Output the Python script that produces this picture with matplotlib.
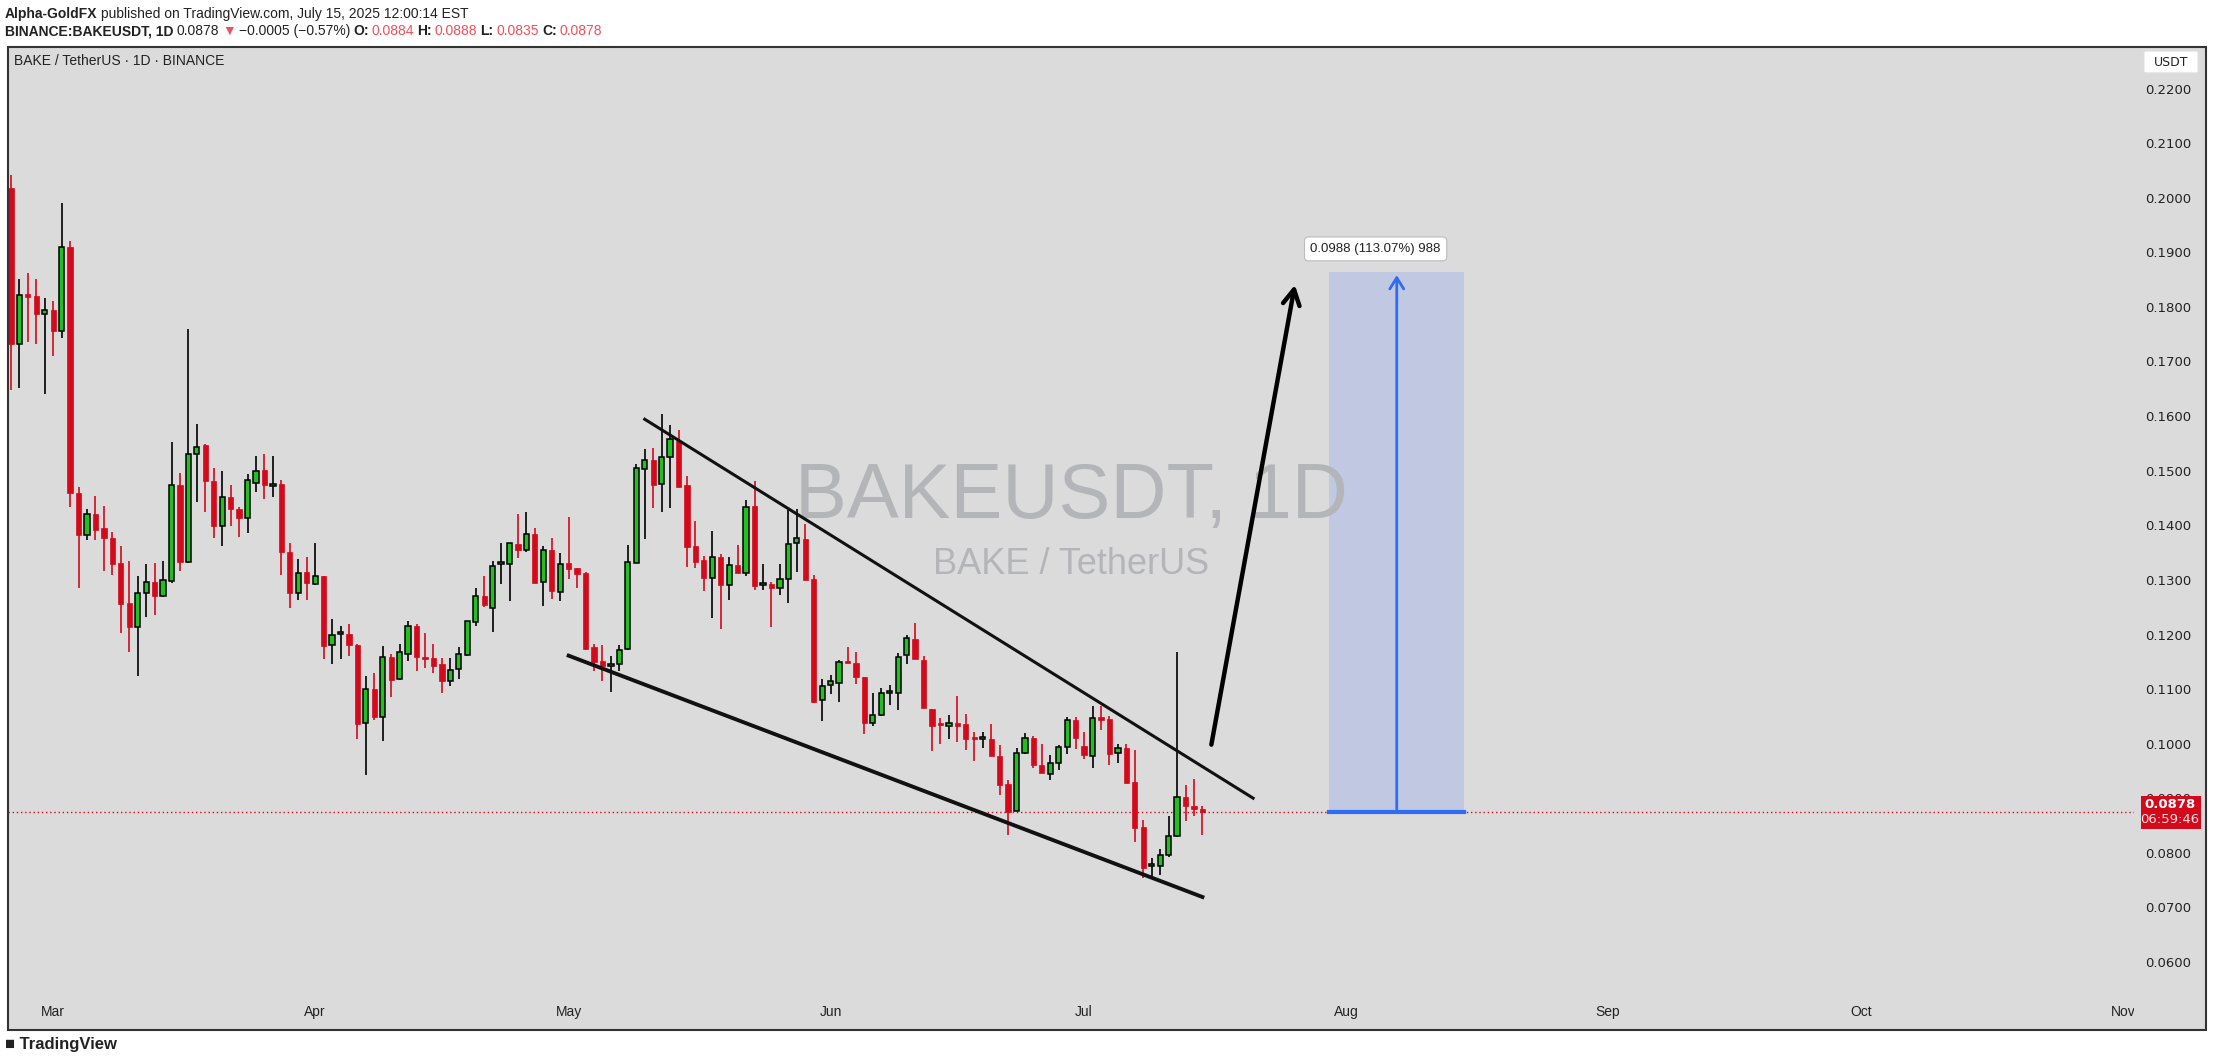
import numpy as np
import matplotlib
matplotlib.use("Agg")
import matplotlib.pyplot as plt
import matplotlib.dates as mdates
from matplotlib.patches import Rectangle, FancyBboxPatch

# daily candles, BINANCE:BAKEUSDT, starting Feb 24 2025
start = np.datetime64("2025-02-24")
opens = [.2020, .1735, .1826, .1823, .1789, .1797, .1759, .1912, .1461, .1385,
         .1423, .1397, .1380, .1334, .1260, .1217, .1279, .1298, .1274, .1300,
         .1477, .1336, .1534, .1549, .1484, .1401, .1454, .1432, .1416, .1481,
         .1504, .1475, .1478, .1354, .1279, .1318, .1295, .1309, .1183, .1203,
         .1203, .1183, .1040, .1103, .1051, .1162, .1122, .1167, .1219, .1161,
         .1160, .1148, .1118, .1139, .1165, .1225, .1274, .1252, .1332, .1332,
         .1368, .1357, .1386, .1298, .1358, .1281, .1333, .1325, .1315, .1179,
         .1154, .1145, .1148, .1177, .1334, .1505, .1523, .1478, .1527, .1558,
         .1476, .1365, .1339, .1307, .1344, .1294, .1330, .1316, .1438, .1293,
         .1295, .1287, .1304, .1371, .1377, .1304, .1083, .1110, .1114, .1153,
         .1150, .1124, .1040, .1056, .1095, .1095, .1165, .1194, .1156, .1067,
         .1039, .1035, .1041, .1039, .1012, .1011, .1011, .0981, .0929, .0880,
         .0985, .1013, .0964, .0947, .0967, .0996, .1046, .0999, .0981, .1051,
         .1048, .0985, .0994, .0932, .0850, .0778, .0778, .0799, .0834, .0906,
         .0887, .0884]
highs = [.2044, .1853, .1864, .1853, .1819, .1813, .1993, .1923, .1473, .1433,
         .1456, .1439, .1390, .1365, .1338, .1309, .1332, .1334, .1337, .1555,
         .1498, .1762, .1589, .1552, .1507, .1502, .1477, .1437, .1496, .1530,
         .1533, .1530, .1486, .1370, .1341, .1344, .1370, .1309, .1232, .1218,
         .1222, .1185, .1126, .1132, .1181, .1167, .1186, .1228, .1222, .1205,
         .1186, .1160, .1160, .1180, .1228, .1287, .1309, .1338, .1370, .1370,
         .1424, .1428, .1398, .1365, .1380, .1352, .1418, .1325, .1317, .1186,
         .1183, .1164, .1183, .1366, .1515, .1542, .1545, .1606, .1586, .1578,
         .1493, .1411, .1346, .1392, .1350, .1345, .1366, .1449, .1484, .1332,
         .1299, .1332, .1431, .1432, .1406, .1312, .1122, .1128, .1156, .1179,
         .1171, .1125, .1095, .1104, .1110, .1168, .1202, .1223, .1163, .1067,
         .1049, .1055, .1090, .1057, .1025, .1025, .1039, .1000, .0936, .0994,
         .1022, .1017, .1002, .0982, .1000, .1051, .1051, .1024, .1072, .1072,
         .1054, .1003, .1002, .0992, .0863, .0793, .0809, .0870, .1171, .0927,
         .0939, .0888]
lows = [.1651, .1655, .1739, .1735, .1644, .1713, .1745, .1436, .1287, .1375,
        .1375, .1319, .1312, .1205, .1171, .1127, .1234, .1238, .1272, .1297,
        .1319, .1334, .1446, .1428, .1379, .1365, .1402, .1382, .1388, .1463,
        .1451, .1455, .1312, .1251, .1266, .1266, .1294, .1158, .1148, .1158,
        .1164, .1012, .0945, .1046, .1008, .1089, .1120, .1155, .1135, .1141,
        .1132, .1095, .1109, .1122, .1164, .1219, .1254, .1208, .1296, .1264,
        .1342, .1354, .1297, .1255, .1268, .1264, .1304, .1287, .1175, .1135,
        .1118, .1097, .1135, .1175, .1333, .1377, .1435, .1427, .1435, .1472,
        .1327, .1325, .1283, .1233, .1213, .1266, .1316, .1310, .1285, .1285,
        .1217, .1276, .1260, .1318, .1302, .1078, .1045, .1094, .1080, .1150,
        .1113, .1020, .1036, .1054, .1073, .1064, .1149, .1157, .1069, .0990,
        .1003, .1012, .1006, .0991, .0971, .0994, .0981, .0909, .0836, .0880,
        .0984, .0958, .0949, .0936, .0955, .0984, .0993, .0974, .0959, .1028,
        .0964, .0968, .0930, .0822, .0756, .0759, .0762, .0795, .0831, .0862,
        .0870, .0835]
closes = [.1735, .1824, .1820, .1790, .1797, .1759, .1912, .1461, .1385, .1423,
          .1394, .1380, .1332, .1259, .1217, .1278, .1298, .1274, .1302, .1477,
          .1336, .1534, .1546, .1483, .1402, .1454, .1432, .1416, .1486, .1502,
          .1477, .1475, .1354, .1279, .1315, .1297, .1309, .1181, .1202, .1203,
          .1183, .1038, .1103, .1051, .1162, .1120, .1170, .1219, .1161, .1158,
          .1145, .1118, .1137, .1167, .1228, .1274, .1257, .1329, .1332, .1370,
          .1357, .1386, .1297, .1357, .1283, .1331, .1323, .1314, .1176, .1152,
          .1145, .1148, .1175, .1336, .1507, .1523, .1476, .1528, .1560, .1472,
          .1363, .1336, .1307, .1344, .1294, .1330, .1316, .1437, .1292, .1296,
          .1287, .1304, .1369, .1379, .1302, .1080, .1109, .1117, .1153, .1150,
          .1124, .1040, .1056, .1095, .1095, .1162, .1196, .1157, .1069, .1036,
          .1037, .1041, .1036, .1012, .1011, .1011, .0981, .0927, .0878, .0985,
          .1013, .0963, .0949, .0967, .0997, .1046, .1014, .0982, .1049, .1046,
          .0984, .0994, .0930, .0849, .0776, .0778, .0799, .0834, .0906, .0889,
          .0884, .0878]

last_price = 0.0878
target_price = 0.1866
upper_line = (["2025-05-10", "2025-07-21"], [0.1597, 0.0903])
lower_line = (["2025-05-01", "2025-07-15"], [0.1164, 0.0722])
arrow_pts = (["2025-07-16", "2025-07-26"], [0.0996, 0.1848])
box_dates = ["2025-07-30", "2025-08-15"]
price_ticks = [0.06, 0.07, 0.08, 0.09, 0.10, 0.11, 0.12, 0.13, 0.14, 0.15,
               0.16, 0.17, 0.18, 0.19, 0.20, 0.21, 0.22]
month_ticks = ["2025-03-01", "2025-04-01", "2025-05-01", "2025-06-01", "2025-07-01",
               "2025-08-01", "2025-09-01", "2025-10-01", "2025-11-01"]

o = np.array(opens); h = np.array(highs); l = np.array(lows); c = np.array(closes)
dates = mdates.date2num((start + np.arange(len(o))).astype("datetime64[D]").astype(object))
d2n = lambda s: mdates.date2num(np.datetime64(s, "D").astype(object))

W, H = 2213, 1064
fig = plt.figure(figsize=(W / 100, H / 100), dpi=100)
fig.patch.set_facecolor("white")
plt.rcParams["font.family"] = ["Liberation Sans", "DejaVu Sans"]

ax = fig.add_axes([8 / W, 1 - 1030 / H, (2134 - 8) / W, (1030 - 47) / H])
ax.set_facecolor("#dbdbdb")
x0 = dates[0] - 0.35
ax.set_xlim(x0, x0 + (2134 - 8) / 8.45)
ax.set_ylim(0.22 - (1030 - 90) / 5460, 0.22 + (90 - 47) / 5460)

fig.patches.append(Rectangle((2134 / W, 1 - 1030 / H), (2206 - 2134) / W, (1030 - 47) / H,
                             transform=fig.transFigure, facecolor="#dbdbdb", edgecolor="none", zorder=0))
fig.patches.append(Rectangle((8 / W, 1 - 1030 / H), (2206 - 8) / W, (1030 - 47) / H,
                             transform=fig.transFigure, facecolor="none", edgecolor="#333333", lw=1.5, zorder=5))
for s in ax.spines.values():
    s.set_visible(False)

up = c >= o
green, red = "#1fc01f", "#d30a1c"
ax.vlines(dates[up], l[up], h[up], color="black", lw=1.2, zorder=2)
ax.vlines(dates[~up], l[~up], h[~up], color=red, lw=1.2, zorder=2)
body = np.maximum(np.abs(c - o), 0.0004)
ax.bar(dates[up], body[up], bottom=np.minimum(o, c)[up], width=0.62, color=green,
       edgecolor="black", lw=1.1, zorder=3)
ax.bar(dates[~up], body[~up], bottom=np.minimum(o, c)[~up], width=0.62, color=red,
       edgecolor=red, lw=0.5, zorder=3)

# pattern lines
ax.plot([d2n(d) for d in upper_line[0]], upper_line[1], color="#111111", lw=2.2, zorder=4)
ax.plot([d2n(d) for d in lower_line[0]], lower_line[1], color="#111111", lw=2.8, zorder=4)
ax.annotate("", xy=(d2n(arrow_pts[0][1]), arrow_pts[1][1]),
            xytext=(d2n(arrow_pts[0][0]), arrow_pts[1][0]),
            arrowprops=dict(arrowstyle="->,head_length=1.1,head_width=0.6", color="black", lw=3.2),
            zorder=4)

ax.axhline(last_price, color="#d30a1c", lw=1, ls=(0, (1, 2)), zorder=1)

# long position projection
bx0, bx1 = d2n(box_dates[0]), d2n(box_dates[1])
ax.add_patch(Rectangle((bx0, last_price), bx1 - bx0, target_price - last_price,
                       facecolor="#c0c8e2", edgecolor="none", zorder=0.5))
ax.plot([bx0, bx1], [last_price, last_price], color="#2f6cf5", lw=3, zorder=2)
ax.annotate("", xy=((bx0 + bx1) / 2, target_price), xytext=((bx0 + bx1) / 2, last_price),
            arrowprops=dict(arrowstyle="->,head_length=0.8,head_width=0.5", color="#2f6cf5", lw=2),
            zorder=2)
ax.text((bx0 + bx1) / 2 - 2.5, target_price + 0.0043, "%.4f (113.07%%) 988" % (target_price - last_price),
        ha="center", va="center", fontsize=9.5, color="#222222", zorder=6,
        bbox=dict(boxstyle="round,pad=0.45,rounding_size=0.3", fc="white", ec="#bbbbbb", lw=0.8))

# watermark
ax.text(0.50, 0.542, "BAKEUSDT, 1D", transform=ax.transAxes, ha="center", va="center",
        fontsize=56, color="#b4b5b8", zorder=0.8)
ax.text(0.50, 0.474, "BAKE / TetherUS", transform=ax.transAxes, ha="center", va="center",
        fontsize=26, color="#b4b5b8", zorder=0.8)

# axes ticks
ax.set_xticks([])
ax.set_yticks([])
for m in month_ticks:
    ax.text(d2n(m), 0.0511, mdates.num2date(d2n(m)).strftime("%b"), ha="center", va="center",
            fontsize=10, color="#222222")
for p in price_ticks:
    y = 1 - (90 + (0.22 - p) * 5460) / H
    fig.text(2168 / W, y, "%.4f" % p, ha="center", va="center", fontsize=9.5, color="#222222",
             family=["DejaVu Sans"])
ly = 1 - (90 + (0.22 - last_price) * 5460) / H
fig.patches.append(Rectangle((2141 / W, ly - 17 / H), 60 / W, 33 / H, transform=fig.transFigure,
                             facecolor="#d30a1c", edgecolor="none", zorder=6))
fig.text(2170 / W, ly + 7 / H, "%.4f" % last_price, ha="center", va="center", fontsize=9.5,
         color="white", weight="bold", family=["DejaVu Sans"], zorder=7)
fig.text(2170 / W, ly - 8 / H, "06:59:46", ha="center", va="center", fontsize=9.5,
         color="#ffdddd", family=["DejaVu Sans"], zorder=7)
fig.patches.append(FancyBboxPatch((2146 / W, 1 - 72 / H), 50 / W, 20 / H, transform=fig.transFigure,
                                  boxstyle="round,pad=0.001", facecolor="white", edgecolor="#dddddd", zorder=6))
fig.text(2171 / W, 1 - 62 / H, "USDT", ha="center", va="center", fontsize=9, color="#222222",
         family=["DejaVu Sans"], zorder=7)

# header, pieces laid out one after another
renderer = fig.canvas.get_renderer()
def line(parts, y):
    x = 5
    for s, bold, col in parts:
        t = fig.text(x / W, 1 - y / H, s, fontsize=10, weight="bold" if bold else "normal",
                     va="center", color=col)
        x += t.get_window_extent(renderer).width + 3

dark, pink = "#222222", "#f0505a"
line([("Alpha-GoldFX", True, dark),
      ("published on TradingView.com, July 15, 2025 12:00:14 EST", False, dark)], 14)
line([("BINANCE:BAKEUSDT, 1D", True, dark), ("0.0878", False, dark), ("\u25bc", False, pink),
      ("\u22120.0005 (\u22120.57%)", False, dark),
      ("O:", True, dark), ("0.0884", False, pink), ("H:", True, dark), ("0.0888", False, pink),
      ("L:", True, dark), ("0.0835", False, pink), ("C:", True, dark), ("0.0878", False, pink)], 31)
fig.text(14 / W, 1 - 61 / H, "BAKE / TetherUS \u00b7 1D \u00b7 BINANCE", fontsize=10, va="center", color=dark)
fig.text(5 / W, 1 - 1045 / H, "\u25a0 TradingView", fontsize=12, weight="bold", va="center", color=dark)

fig.savefig("out.png", dpi=100)
